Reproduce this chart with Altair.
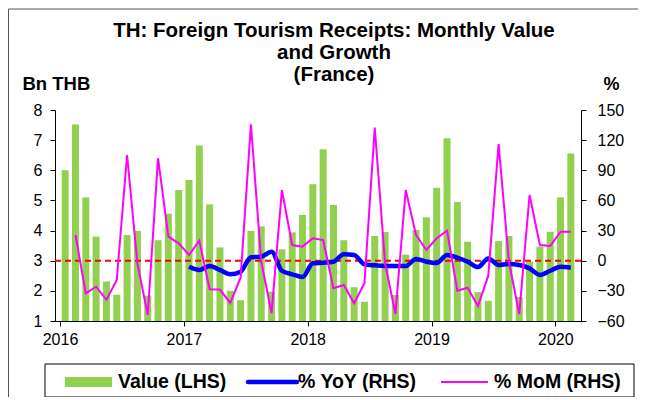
import altair as alt
import pandas as pd

FONT = "Liberation Sans"

# ---------------- data ----------------
months = [f"{y}-{m:02d}" for y in range(2016, 2021) for m in range(1, 13)][:50]

value_bn = [6.00, 7.52, 5.10, 3.80, 2.31, 1.87, 3.85, 3.99, 1.84, 3.68, 4.56, 5.35,
            5.68, 6.82, 4.87, 3.44, 2.00, 1.69, 3.99, 4.14, 1.97, 3.38, 3.94, 4.52,
            5.54, 6.70, 4.85, 3.68, 2.12, 1.64, 3.82, 3.95, 1.86, 3.20, 4.02, 4.44,
            5.42, 7.06, 4.95, 3.63, 1.96, 1.67, 3.65, 3.82, 1.80, 2.97, 3.47, 3.96,
            5.10, 6.56]

mom_months = months[1:]
mom_pct = [25.6, -32.4, -25.9, -38.8, -19.2, 105.2, -2.6, -54.0, 102.0, 23.9, 17.3,
           5.7, 19.9, -28.4, -28.7, -42.0, -16.9, 135.8, -1.0, -52.3, 70.4, 15.6, 14.0,
           22.3, 20.6, -27.4, -24.2, -42.4, -22.5, 132.4, -2.6, -53.0, 70.4, 25.6, 10.7,
           22.3, 29.9, -29.8, -26.9, -45.1, -14.9, 116.2, -1.0, -53.0, 65.4, 15.6, 14.6,
           28.9, 28.9]

yoy_months = months[12:]
yoy_pct = [-6.0, -9.2, -5.3, -9.2, -13.5, -10.9, 3.4, 4.0, 9.0, -10.0, -13.5, -16.2,
           -2.6, -2.0, -1.0, 6.4, 5.7, -3.6, -4.6, -5.3, -5.3, -5.3, 1.7, -1.0,
           -2.3, 5.7, 3.0, -1.0, -6.3, 2.3, -4.3, -3.3, -4.3, -7.6, -14.2, -10.0,
           -6.0, -7.0]

year_ticks = [2016, 2017, 2018, 2019, 2020]
left_ticks = [1, 2, 3, 4, 5, 6, 7, 8]
right_ticks = [-60, -30, 0, 30, 60, 90, 120, 150]

title_lines = ["TH: Foreign Tourism Receipts: Monthly Value", "and Growth", "(France)"]
legend_labels = ["Value (LHS)", "% YoY (RHS)", "% MoM (RHS)"]


def mpos(m):
    y, mo = m.split("-")
    return int(y) + (int(mo) - 0.5) / 12


df_val = pd.DataFrame({"t": [mpos(m) for m in months], "value": value_bn})
df_mom = pd.DataFrame({"t": [mpos(m) for m in mom_months], "pct": mom_pct})
df_yoy = pd.DataFrame({"t": [mpos(m) for m in yoy_months], "pct": yoy_pct})
one = pd.DataFrame({"k": [0]})

GREEN, BLUE, MAGENTA = "#92D050", "#0000FF", "#FF00FF"
W, H = 526, 211

x_scale = alt.Scale(domain=[2016, 2016 + 50 / 12], nice=False, zero=False)
x_axis = alt.Axis(values=year_ticks, format="d", title=None, grid=False,
                  labelFontSize=16, labelFont=FONT, labelColor="black",
                  tickSize=5, tickColor="black", domainColor="black",
                  labelPadding=5, labelFlush=False, labelOverlap=False)

left_scale = alt.Scale(domain=[1, 8], nice=False, zero=False)
left_axis = alt.Axis(values=left_ticks, grid=False, title="Bn THB",
                     titleAngle=0, titleX=-33, titleY=-27, titleAlign="left",
                     titleBaseline="middle", titleFontSize=18.5, titleFontWeight="bold",
                     titleFont=FONT, titleColor="black",
                     labelFontSize=16, labelFont=FONT, labelColor="black",
                     labelOverlap=False, labelFlush=False, labelBound=False,
                     tickSize=5, tickColor="black", domainColor="black", labelPadding=8)

right_scale = alt.Scale(domain=[-60, 150], nice=False, zero=False)
right_axis = alt.Axis(orient="right", values=right_ticks, grid=False, title="%",
                      titleAngle=0, titleX=30, titleY=-26, titleAlign="center",
                      titleBaseline="middle", titleFontSize=18, titleFontWeight="bold",
                      titleFont=FONT, titleColor="black",
                      labelFontSize=16, labelFont=FONT, labelColor="black",
                      labelOverlap=False, labelFlush=False,
                      tickSize=5, tickColor="black", domainColor="black", labelPadding=11)

bars = alt.Chart(df_val).mark_bar(color=GREEN, size=7).encode(
    x=alt.X("t:Q", scale=x_scale, axis=x_axis),
    y=alt.Y("value:Q", scale=left_scale, axis=left_axis),
    y2=alt.datum(1),
)
zero_rule = alt.Chart(one).mark_rule(color="#FF0000", strokeDash=[6, 4], strokeWidth=2).encode(
    y=alt.Y(datum=3, type="quantitative", scale=left_scale, axis=left_axis)
)
left = alt.layer(bars, zero_rule)

yoy_line = alt.Chart(df_yoy).mark_line(color=BLUE, strokeWidth=4.5, interpolate="monotone").encode(
    x=alt.X("t:Q", scale=x_scale, axis=x_axis),
    y=alt.Y("pct:Q", scale=right_scale, axis=right_axis),
)
mom_line = alt.Chart(df_mom).mark_line(color=MAGENTA, strokeWidth=2).encode(
    x=alt.X("t:Q", scale=x_scale, axis=x_axis),
    y=alt.Y("pct:Q", scale=right_scale, axis=right_axis),
)
right = alt.layer(yoy_line, mom_line)

# ---------------- decorations: title, legend, frame ----------------
decos = []
for txt, yy in zip(title_lines, [-79, -57, -35]):
    decos.append(alt.Chart(one).mark_text(
        text=txt, font=FONT, fontSize=20.5, fontWeight="bold", color="black",
        align="center", baseline="middle").encode(x=alt.value(279), y=alt.value(yy)))

decos.append(alt.Chart(one).mark_rect(fill="white", stroke="black", strokeWidth=1).encode(
    x=alt.value(-10), x2=alt.value(579), y=alt.value(254), y2=alt.value(287)))
decos.append(alt.Chart(one).mark_rect(fill=GREEN).encode(
    x=alt.value(10), x2=alt.value(57), y=alt.value(267), y2=alt.value(277)))
decos.append(alt.Chart(one).mark_rule(color=BLUE, strokeWidth=4.5, strokeCap="round").encode(
    x=alt.value(193), x2=alt.value(242), y=alt.value(272)))
decos.append(alt.Chart(one).mark_rule(color=MAGENTA, strokeWidth=2).encode(
    x=alt.value(386), x2=alt.value(433), y=alt.value(272)))
for txt, xx in zip(legend_labels, [63, 243, 439]):
    decos.append(alt.Chart(one).mark_text(
        text=txt, font=FONT, fontSize=19.5, fontWeight="bold", color="black",
        align="left", baseline="middle").encode(x=alt.value(xx), y=alt.value(272)))

decos.append(alt.Chart(one).mark_rule(color="#555555", strokeWidth=1).encode(
    x=alt.value(-46.5), y=alt.value(-101), y2=alt.value(290)))
decos.append(alt.Chart(one).mark_rule(color="#555555", strokeWidth=1).encode(
    x=alt.value(-46.5), x2=alt.value(590), y=alt.value(-101)))

chart = alt.layer(left, right, *decos).resolve_scale(y="independent").properties(
    width=W, height=H,
    autosize=alt.AutoSizeParams(type="none"),
    padding={"left": 47, "top": 102, "right": 57, "bottom": 76},
    background="white",
).configure_view(stroke=None)

chart.save("out.html", embed_options={"renderer": "svg", "actions": False})
